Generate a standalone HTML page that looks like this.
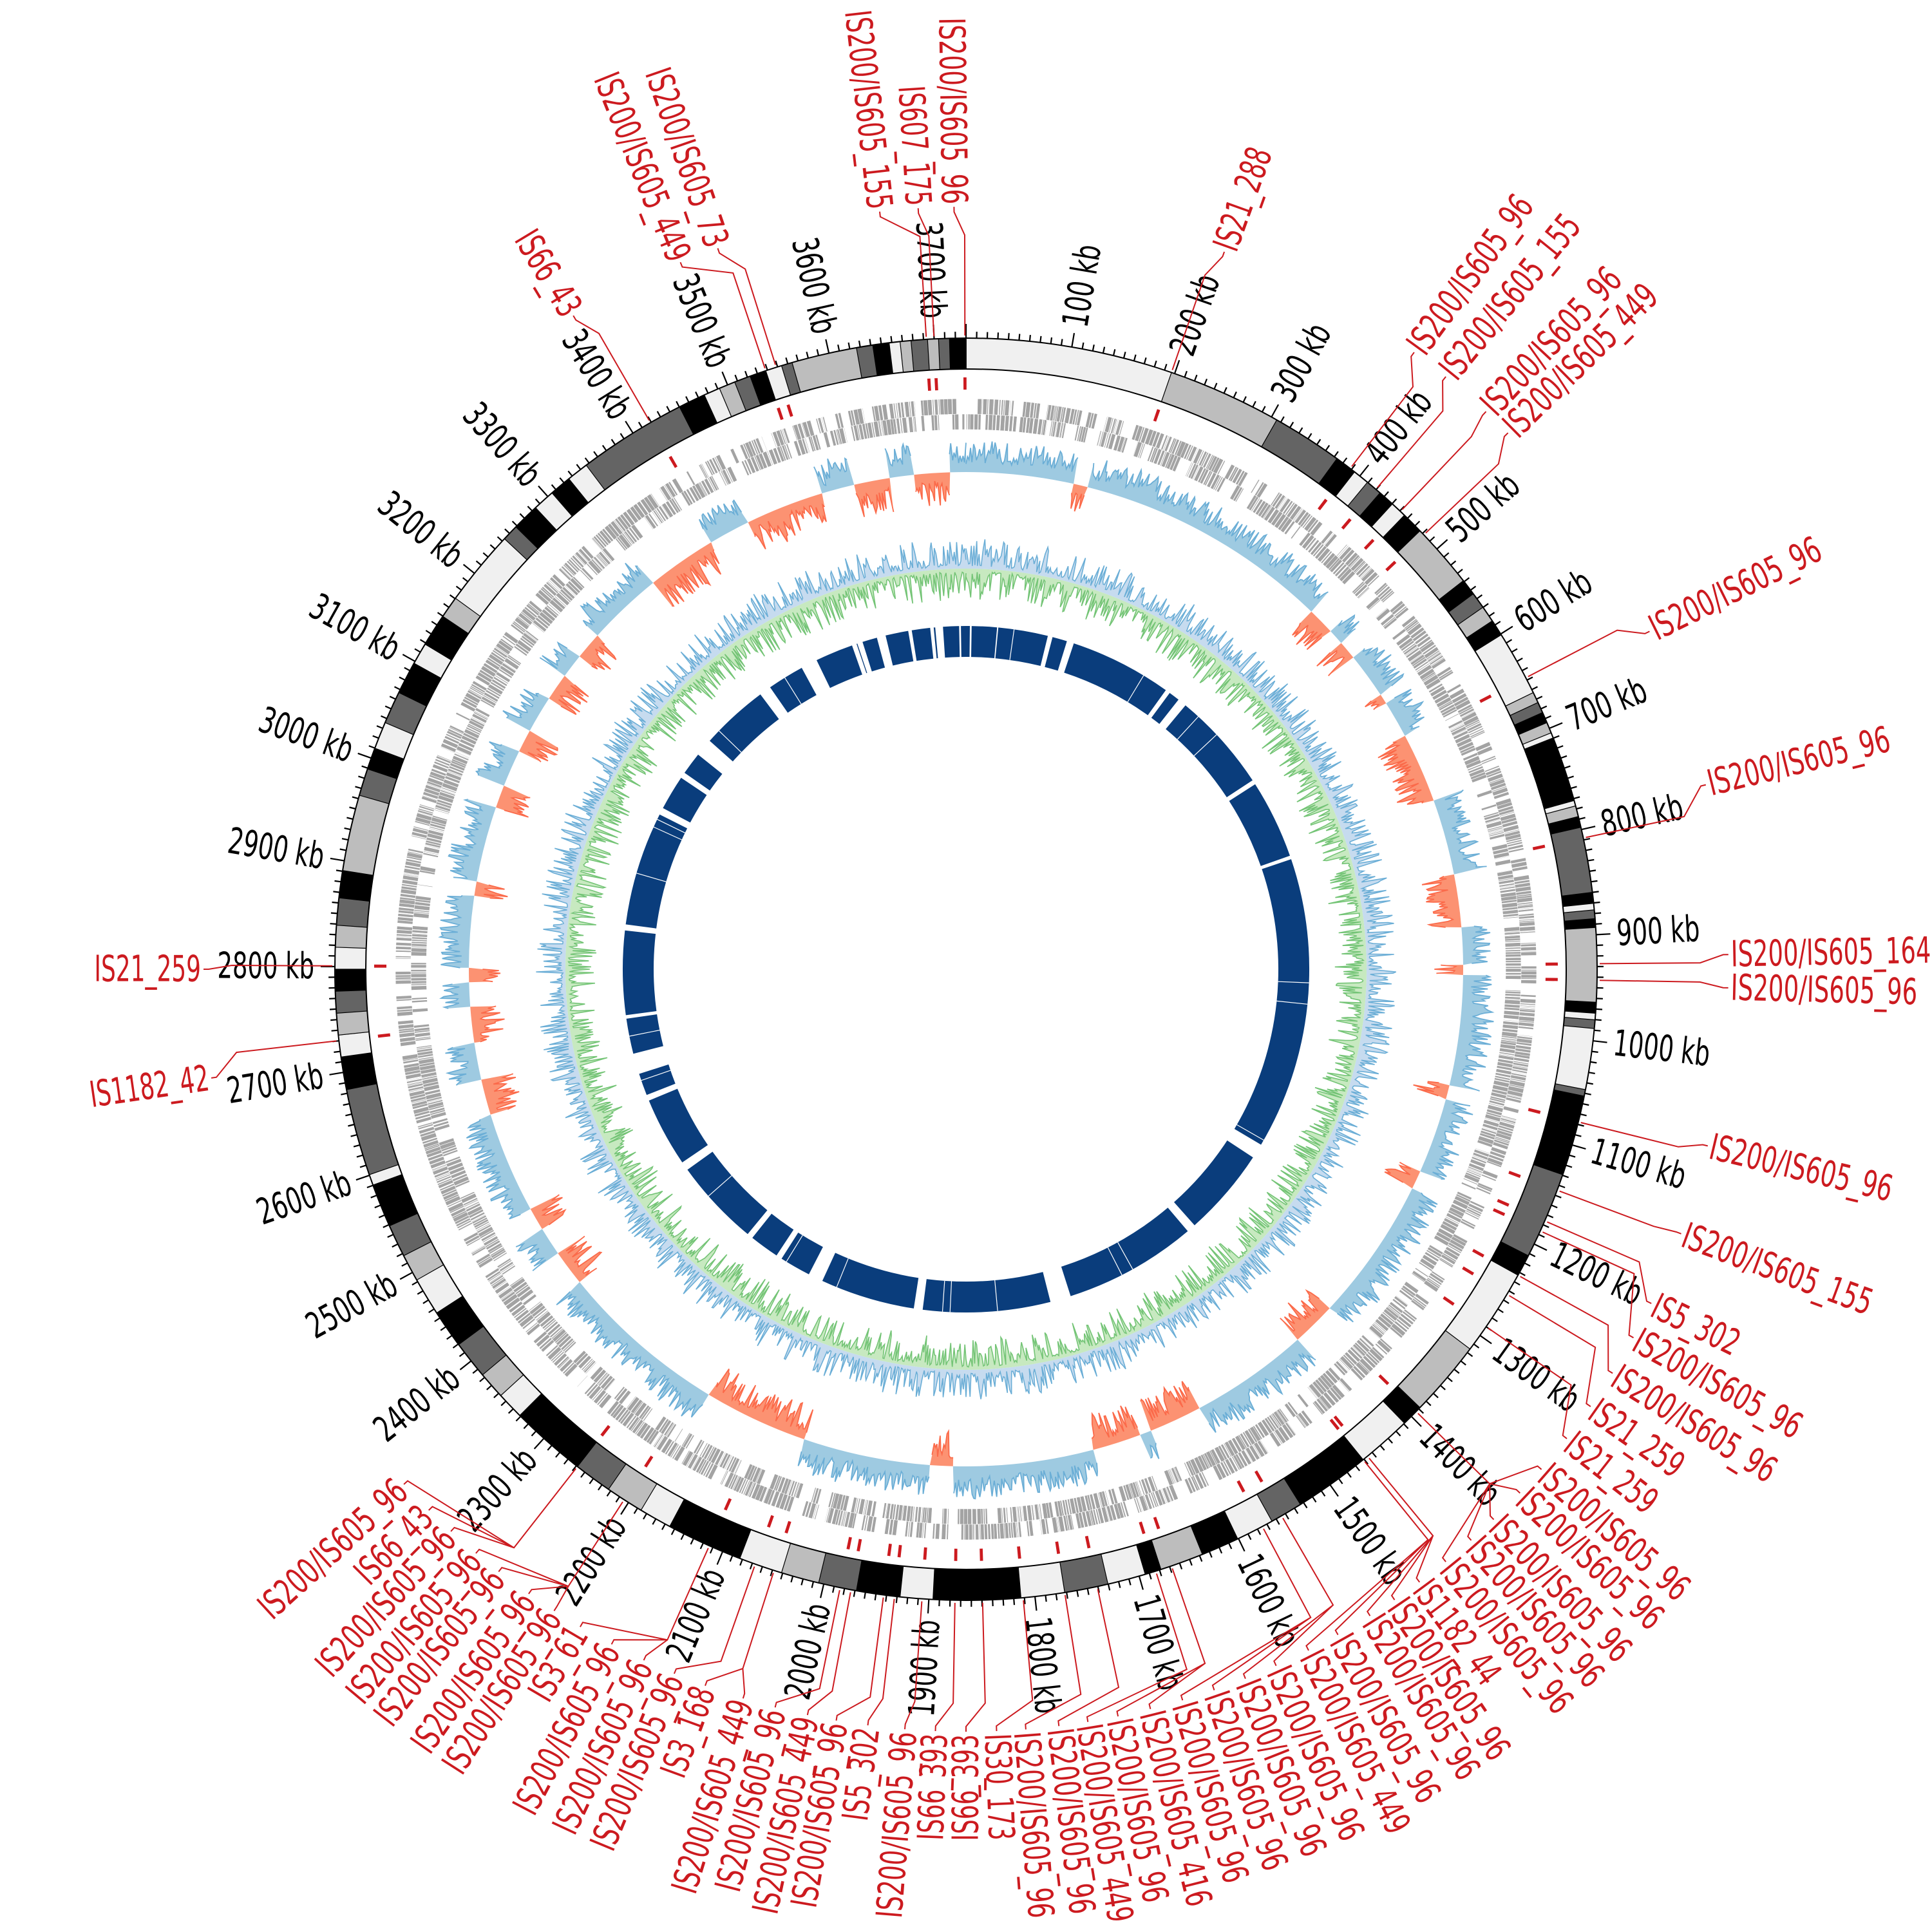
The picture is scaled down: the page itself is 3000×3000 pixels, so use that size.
<!DOCTYPE html>
<html><head><meta charset="utf-8">
<style>
html,body{margin:0;padding:0;background:#fff;}
svg{display:block;}
text{font-family:"DejaVu Sans Condensed","Liberation Sans Narrow","Liberation Sans",sans-serif;}
</style></head>
<body>
<svg id="s" xmlns="http://www.w3.org/2000/svg" width="3000" height="3000" viewBox="0 0 3000 3000"></svg>
<script>
(function(){
var CX=1500,CY=1505,L=3730;
var out=[];
function pt(a,r){var t=a*Math.PI/180;return [CX+r*Math.sin(t),CY-r*Math.cos(t)];}
function f(p){return p[0].toFixed(1)+","+p[1].toFixed(1);}
function sector(a0,a1,r0,r1){
 var lg=(a1-a0)>180?1:0;
 return "M"+f(pt(a0,r1))+"A"+r1+","+r1+" 0 "+lg+" 1 "+f(pt(a1,r1))+"L"+f(pt(a1,r0))+"A"+r0+","+r0+" 0 "+lg+" 0 "+f(pt(a0,r0))+"Z";
}
var seed=12345;function rnd(){seed=(seed*16807)%2147483647;return seed/2147483647;}

var C={e:"#f0f0f0",b:"#bdbdbd",d:"#646464",k:"#000000"};
var segs=[[0,19,'e'],[19,29.5,'b'],[29.5,36,'d'],[36,38,'k'],[38,39.5,'e'],[39.5,41,'d'],[41,42.5,'k'],[42.5,44,'e'],[44,46,'k'],[46,52,'b'],[52,53.5,'k'],[53.5,55,'d'],[55,56.5,'b'],[56.5,58,'k'],[58,64,'e'],[64,65,'b'],[65,66,'d'],[66,67,'k'],[67,68,'b'],[68,68.5,'e'],[68.5,69.5,'k'],[69.5,74.5,'k'],[74.5,75,'e'],[75,76,'b'],[76,77,'k'],[77,83,'d'],[83,84,'k'],[84,84.6,'e'],[84.6,85.4,'d'],[85.4,86.2,'k'],[86.2,93,'b'],[93,94,'k'],[94,94.6,'e'],[94.6,95.4,'d'],[95.4,101,'e'],[101,101.6,'d'],[101.6,109,'k'],[109,117,'d'],[117,119,'k'],[119,127,'e'],[127,134,'b'],[134,136,'k'],[136,141,'e'],[141,148,'k'],[148,151,'d'],[151,154.5,'e'],[154.5,158,'k'],[158,162,'b'],[162,163.5,'k'],[163.5,167,'e'],[167,171,'d'],[171,175,'e'],[175,183,'k'],[183,186,'e'],[186,190,'k'],[190,193.5,'d'],[193.5,197,'b'],[197,201,'e'],[201,208,'k'],[208,211,'e'],[211,214.5,'b'],[214.5,218,'d'],[218,225,'k'],[225,227.5,'e'],[227.5,230,'b'],[230,233.5,'d'],[233.5,237,'k'],[237,240.5,'e'],[240.5,243,'b'],[243,246,'d'],[246,250,'k'],[250,251,'e'],[251,259,'d'],[259,262,'k'],[262,264,'e'],[264,266,'b'],[266,268,'d'],[268,270,'k'],[270,272,'e'],[272,274,'b'],[274,276.5,'d'],[276.5,279,'k'],[279,286,'b'],[286,288.5,'d'],[288.5,290.5,'k'],[290.5,293,'e'],[293,296,'d'],[296,299,'k'],[299,301,'e'],[301,304,'k'],[304,306,'b'],[306,313,'e'],[313,314.5,'d'],[314.5,317,'k'],[317,319,'e'],[319,321,'k'],[321,323,'e'],[323,333,'d'],[333,335.5,'k'],[335.5,337,'e'],[337,338.5,'b'],[338.5,340,'d'],[340,341.5,'k'],[341.5,343,'e'],[343,344,'d'],[344,350,'b'],[350,351.5,'d'],[351.5,353,'k'],[353,354,'e'],[354,355,'b'],[355,356.5,'d'],[356.5,357.5,'b'],[357.5,358.5,'d'],[358.5,360,'k']];
segs.forEach(function(s){out.push('<path d="'+sector(s[0],s[1]+0.02,932,980)+'" fill="'+C[s[2]]+'" stroke="#000" stroke-width="1.2"/>');});
out.push('<circle cx="'+CX+'" cy="'+CY+'" r="980" fill="none" stroke="#000" stroke-width="2"/>');
out.push('<circle cx="'+CX+'" cy="'+CY+'" r="932" fill="none" stroke="#000" stroke-width="2"/>');
var tk="";
for(var k=0;k*10<=L;k++){var a=k*10/L*360;var big=(k%10==0);var p0=pt(a,980),p1=pt(a,big?1002:990);tk+="M"+f(p0)+"L"+f(p1);}
out.push('<path d="'+tk+'" stroke="#000" stroke-width="2.2" fill="none"/>');
for(var k=1;k<=37;k++){
 var a=k*100/L*360,s=(k*100)+" kb",p=pt(a,1012),rot,anc;
 if(a<180){rot=a-90;anc="start";}else{rot=a+90;anc="end";}
 out.push('<text x="'+p[0].toFixed(1)+'" y="'+p[1].toFixed(1)+'" transform="rotate('+rot.toFixed(2)+' '+p[0].toFixed(1)+' '+p[1].toFixed(1)+')" text-anchor="'+anc+'" dominant-baseline="central" font-size="56" textLength="'+(s.length*21.5)+'" lengthAdjust="spacingAndGlyphs" fill="#000">'+s+'</text>');
}
var g="";
[[862,886],[838,862]].forEach(function(row,ri){
 var a=0;
 while(a<360){
  var r=rnd();
  var gap=r<0.14?rnd()*1.4:rnd()*0.1;
  a+=gap;
  var len=0.05+rnd()*0.38;
  if(a+len>360)break;
  g+=sector(a,a+len,row[0],row[1]);
  a+=len;
 }
});
out.push('<path d="'+g+'" fill="#a3a3a3" stroke="#fff" stroke-width="0.6"/>');
var reds=[[-21,-17],[-13,-9],[-6,-2],[12.5,14],[44,47],[49,51],[56.5,57.5],[62,70],[79,85],[89.5,90.5],[103.5,105],[114,116],[133,138],[152,158],[159.5,165],[181.5,184],[199,211],[231,235],[238.5,241],[253,257],[261.5,265.5],[268.5,270],[278.5,280],[289,291.5],[296,298.5],[303,306],[309,312],[321,329],[334,340]];
function isRed(a){var b=a>180?a-360:a;for(var i=0;i<reds.length;i++){if((b>=reds[i][0]&&b<=reds[i][1])||(a>=reds[i][0]&&a<=reds[i][1]))return true;}return false;}
var N=2160,RB=772;
var vb=[],vr=[],sm=12;
for(var i=0;i<=N;i++){
 var a=i*360/N;sm=sm*0.85+0.15*(4+rnd()*22);
 var spike=Math.pow(rnd(),1.3)*34;
 if(isRed(a)){vr.push(sm*0.8+spike*1.2);vb.push(0);}else{vb.push(sm+spike);vr.push(0);}
}
function track(vals,sign,fill,line){
 var d="",ln="",inRun=false,start=0;
 for(var i=0;i<=N;i++){
  var a=i*360/N;
  if(vals[i]>0){
   var p=pt(a,RB+sign*vals[i]);
   if(!inRun){d+="M"+f(pt(a,RB))+"L"+f(p);ln+="M"+f(p);inRun=true;start=a;}
   else{d+="L"+f(p);ln+="L"+f(p);}
  }
  if(inRun&&(vals[i]<=0||i==N)){d+="L"+f(pt(a,RB))+"A"+RB+","+RB+" 0 0 0 "+f(pt(start,RB))+"Z";inRun=false;}
 }
 out.push('<path d="'+d+'" fill="'+fill+'" stroke="none"/>');
 out.push('<path d="'+ln+'" fill="none" stroke="'+line+'" stroke-width="1.8"/>');
}
track(vb,1,"#9ecae1","#6baed6");
track(vr,-1,"#fc9272","#fb6a4a");
var N2=2000,R2=622,s1=4,s2=4;
var pb=[],pg=[];
for(var i=0;i<=N2;i++){
 var a=i*360/N2;s1=s1*0.85+0.15*(1+rnd()*8);s2=s2*0.85+0.15*(1+rnd()*8);
 pb.push(pt(a,R2+s1+Math.pow(rnd(),2.6)*42));
 pg.push(pt(a,R2-s2-Math.pow(rnd(),2.6)*45));
}
var lb="M"+pb.map(f).join("L"),lgp="M"+pg.map(f).join("L");
var base="M"+f(pt(0,R2))+"A"+R2+","+R2+" 0 1 1 "+f(pt(180,R2))+"A"+R2+","+R2+" 0 1 1 "+f(pt(0,R2))+"Z";
out.push('<path d="'+lb+'Z '+base+'" fill="#c6dbef" fill-rule="evenodd" stroke="none"/>');
out.push('<path d="'+lgp+'Z '+base+'" fill="#c7e9c0" fill-rule="evenodd" stroke="none"/>');
out.push('<path d="'+lb+'" fill="none" stroke="#6baed6" stroke-width="1.6"/>');
out.push('<path d="'+lgp+'" fill="none" stroke="#74c476" stroke-width="1.6"/>');
var gaps=[[-18,0.9],[-14.3,1.5],[-9.4,0.6],[-5.7,0.6],[-4.5,1.3],[-1,0.3],[0.8,0.3],[5.3,0.2],[14.2,0.8],[17.7,1.2],[36,0.8],[39,1.5],[57,0.8],[71,0.6],[122,2.5],[139,1.5],[164,3.5],[188,1.5],[206,2.5],[213,1],[219,1],[235,1.5],[248,1],[254,3.5],[262,0.6],[277,1],[297.4,1.2],[304.4,1],[310.2,3],[324.2,2],[332.8,2.8],[341,0.8]];
gaps=gaps.map(function(x){var c=x[0]<0?x[0]+360:x[0];return [c-x[1]/2,c+x[1]/2];}).sort(function(a,b){return a[0]-b[0];});
var ir="",prev=0;
gaps.forEach(function(gp){if(gp[0]>prev)ir+=sector(prev,gp[0],485,533);prev=gp[1];});
if(prev<360)ir+=sector(prev,360,485,533);
out.push('<path d="'+ir+'" fill="#0a3d7c"/>');
var wl="";for(var i=0;i<25;i++){var a=rnd()*360;wl+="M"+f(pt(a,485))+"L"+f(pt(a,533));}
out.push('<path d="'+wl+'" stroke="#fff" stroke-width="1.2"/>');
var labs=[
["IS200/IS605_96",-0.9,-0.1],["IS607_175",-3.6,-2.9],["IS200/IS605_155",-6.5,-3.6],["IS200/IS605_73",-19,-17.5],["IS200/IS605_449",-22,-18.5],["IS66_43",-31,-30],
["IS21_288",19.8,19],["IS200/IS605_96",36,37.5],["IS200/IS605_155",39,40.5],["IS200/IS605_96",43,43.5],["IS200/IS605_449",45.3,46.5],["IS200/IS605_96",63.7,62.5],["IS200/IS605_96",76,78],["IS200/IS605_164",88.9,89.5],["IS200/IS605_96",91.4,91],["IS200/IS605_96",103.4,104],["IS200/IS605_155",110.3,110.5],["IS5_302",116,113.5],["IS200/IS605_96",118.9,114.5],["IS200/IS605_96",122,119],["IS21_259",125,121],["IS21_259",128,124.5],
["IS200/IS605_96",131,134.5],["IS200/IS605_96",133.4,134.5],["IS200/IS605_96",136.2,134.5],["IS200/IS605_96",138.5,134.5],["IS200/IS605_96",141,134.5],["IS1182_44",143.5,140.5],["IS200/IS605_96",145.8,140.5],["IS200/IS605_96",148,140.5],["IS200/IS605_96",150.8,141],["IS200/IS605_449",153.3,141],["IS200/IS605_96",156,150],["IS200/IS605_96",158.5,150],["IS200/IS605_96",161,152],["IS200/IS605_96",163.5,152],["IS200/IS605_416",166,161],["IS200/IS605_96",168.5,161],["IS200/IS605_449",170.8,162.5],["IS200/IS605_96",173,168],["IS200/IS605_96",175.5,171],["IS30_173",177.7,174.8],
["IS66_393",180,178.5],["IS66_393",182.3,181],["IS200/IS605_96",184.6,184],["IS5_302",187.4,186.5],["IS200/IS605_96",189.8,187.5],["IS200/IS605_449",192,190.5],["IS200/IS605_96",194.5,191.5],["IS200/IS605_449",197,197.7],["IS3_168",200,197.7],["IS200/IS605_96",202.5,199.5],["IS200/IS605_96",205,204],["IS200/IS605_96",207.7,204],["IS3_61",210.4,204],["IS200/IS605_96",212.7,212.8],["IS200/IS605_96",215,212.8],["IS200/IS605_96",217.8,212.8],["IS200/IS605_96",220,212.8],["IS200/IS605_96",222.5,218],["IS66_43",224.8,218],["IS200/IS605_96",227.5,218],
["IS1182_42",261.8,263.5],["IS21_259",270,270.3]];
var ld="",mk="";
labs.forEach(function(l){
 var la=l[1]<0?l[1]+360:l[1],ma=l[2]<0?l[2]+360:l[2];
 var p0=pt(ma,984),p1=pt(ma,1140),p2=pt(la,1176),p3=pt(la,1184);
 ld+="M"+f(p0)+"L"+f(p1)+"L"+f(p2)+"L"+f(p3);
 mk+=sector(ma-0.15,ma+0.15,900,919);
 var p=pt(la,1188),rot,anc;
 if(la<180){rot=la-90;anc="start";}else{rot=la+90;anc="end";}
 out.push('<text x="'+p[0].toFixed(1)+'" y="'+p[1].toFixed(1)+'" transform="rotate('+rot.toFixed(2)+' '+p[0].toFixed(1)+' '+p[1].toFixed(1)+')" text-anchor="'+anc+'" dominant-baseline="central" font-size="56" textLength="'+(l[0].length*20.7).toFixed(1)+'" lengthAdjust="spacingAndGlyphs" fill="#cc1a1f">'+l[0]+'</text>');
});
out.push('<path d="'+ld+'" fill="none" stroke="#cc1a1f" stroke-width="2"/>');
out.push('<path d="'+mk+'" fill="#cc1a1f"/>');
document.getElementById("s").innerHTML=out.join("");
})();
</script>
</body></html>
